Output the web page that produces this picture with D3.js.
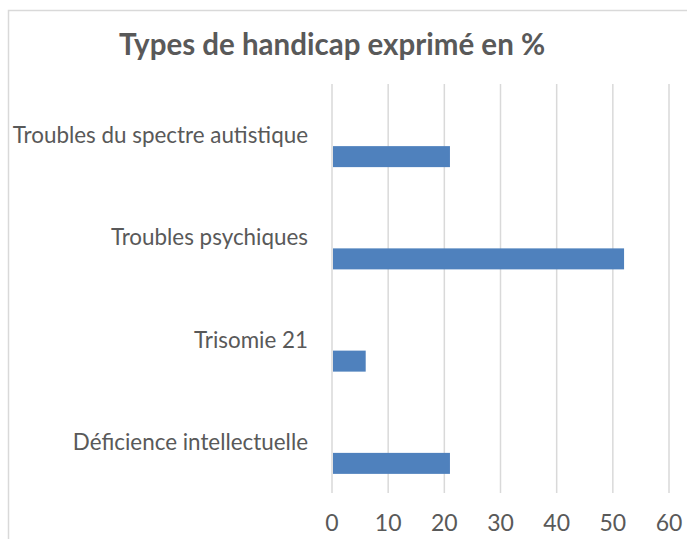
<!DOCTYPE html>
<html>
<head>
<meta charset="utf-8">
<script src="https://cdn.jsdelivr.net/npm/d3@7"></script>
<style>
  body { margin: 0; background: #fff; }
  text { font-family: Lato, "Open Sans", sans-serif; fill: #595959; }
</style>
</head>
<body>
<svg id="chart" width="687" height="539"></svg>
<script>
// categories from top to bottom, values in %
const categories = ['Troubles du spectre autistique', 'Troubles psychiques', 'Trisomie 21', 'Déficience intellectuelle'];
const values = [21, 52, 6, 21];
const xTicks = [0, 10, 20, 30, 40, 50, 60];
const title = 'Types de handicap exprimé en %';

const svg = d3.select('#chart');
const margin = {top: 84, right: 18, bottom: 46, left: 332};

// chart frame
svg.append('rect')
    .attr('x', 8.5)
    .attr('y', 10.5)
    .attr('width', 700)
    .attr('height', 560)
    .attr('fill', 'none')
    .attr('stroke', '#d9d9d9')
    .attr('stroke-width', 1.5);

svg.append('text')
    .attr('x', 332)
    .attr('y', 55)
    .attr('text-anchor', 'middle')
    .attr('font-size', '29.5px')
    .attr('font-weight', 'bold')
    .text(title);

const chart = svg.append('g')
    .attr('transform', `translate(${margin.left},${margin.top})`);

const x = d3.scaleLinear().domain([0, 60]).range([0, 337]);
const y = d3.scaleBand().domain(categories).range([0, 409]).padding(0);

// vertical gridlines
chart.selectAll('.grid')
    .data(xTicks)
  .join('line')
    .attr('class', 'grid')
    .attr('x1', d => x(d))
    .attr('x2', d => x(d))
    .attr('y1', 0)
    .attr('y2', 409)
    .attr('stroke', '#d9d9d9')
    .attr('stroke-width', 1.5);

// bars sit in the lower part of each band (Excel cluster)
const barH = 21;
chart.selectAll('.bar')
    .data(values)
  .join('rect')
    .attr('class', 'bar')
    .attr('x', x(0) + 1)
    .attr('y', (d, i) => y(categories[i]) + y.bandwidth() / 2 + 11)
    .attr('width', d => x(d) - x(0) - 1)
    .attr('height', barH)
    .attr('fill', '#4f81bd');

// category labels, right aligned at band center
chart.selectAll('.cat')
    .data(categories)
  .join('text')
    .attr('class', 'cat')
    .attr('x', -24)
    .attr('y', d => y(d) + y.bandwidth() / 2 + 8)
    .attr('text-anchor', 'end')
    .attr('font-size', '22.4px')
    .text(d => d);

// x tick labels
chart.selectAll('.tick-label')
    .data(xTicks)
  .join('text')
    .attr('class', 'tick-label')
    .attr('x', d => x(d))
    .attr('y', 447)
    .attr('text-anchor', 'middle')
    .attr('font-size', '23px')
    .text(d => d);
</script>
</body>
</html>
